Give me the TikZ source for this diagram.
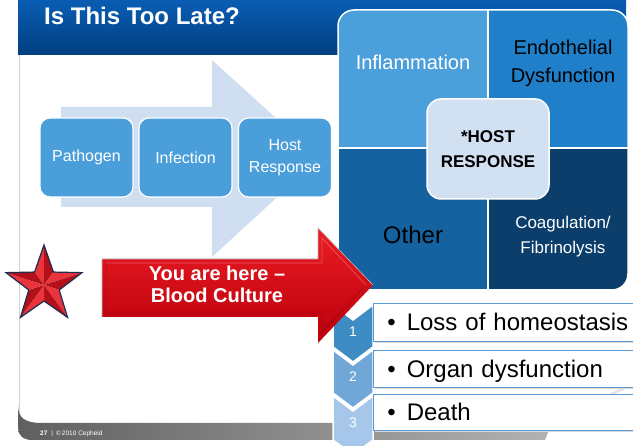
\documentclass[tikz,border=0pt]{standalone}
\usepackage{fontspec}
\setmainfont{Liberation Sans}
\usetikzlibrary{calc}

\definecolor{hdrtop}{HTML}{0A5DB3}
\definecolor{hdrbot}{HTML}{003F80}
\definecolor{flowarrow}{HTML}{CFDFF1}
\definecolor{procblue}{HTML}{4A9FDA}
\definecolor{quadtl}{HTML}{4BA0DC}
\definecolor{quadtr}{HTML}{1F7FC8}
\definecolor{quadbl}{HTML}{1462A0}
\definecolor{quadbr}{HTML}{0C3E6C}
\definecolor{hostfill}{HTML}{D2E1F2}
\definecolor{chevone}{HTML}{3D8CC4}
\definecolor{chevtwo}{HTML}{70A7D7}
\definecolor{chevthree}{HTML}{A6C7E9}
\definecolor{listedge}{HTML}{5B9BD5}
\definecolor{redtop}{HTML}{EC1C24}
\definecolor{redbot}{HTML}{B8000C}
\definecolor{starlight}{HTML}{E8343A}
\definecolor{stardark}{HTML}{B2101A}
\definecolor{starline}{HTML}{1E2D52}

\tikzset{
  procbox/.style={rounded corners=10pt, fill=procblue, draw=white, line width=1.2pt,
    minimum width=93pt, minimum height=79pt, text=white, align=center,
    font=\fontsize{16}{22}\selectfont},
  hostbox/.style={rounded corners=14pt, fill=hostfill, draw=white, line width=1.5pt,
    minimum width=122pt, minimum height=100pt, align=center,
    font=\bfseries\fontsize{17}{25}\selectfont},
  quadlabel/.style={align=center, inner sep=0pt},
  listbox/.style={anchor=north west, fill=white, draw=listedge, line width=0.8pt,
    minimum width=270pt, minimum height=38pt, text width=250pt, align=left,
    inner xsep=14pt, text height=17pt, text depth=0pt,
    font=\fontsize{24}{27}\selectfont},
  chevron/.style={draw=white, line width=1.5pt},
  chevnum/.style={text=white, font=\fontsize{14}{16}\selectfont, inner sep=0pt},
}

\begin{document}
\begin{tikzpicture}[x=1pt, y=-1pt]
\useasboundingbox (0,0) rectangle (633,446);
\clip (0,0) rectangle (633,446);

% slide frame
\draw[gray!35, line width=1pt] (19,55) -- (19,425);

% footer bar and swoosh
\shade[left color=gray!75!black, right color=gray!60]
  (18,405) .. controls (18,418) and (25,423) .. (42,423) -- (552,423)
  -- (545,440) -- (32,440) .. controls (23,440) and (18,435) .. (18,428) -- cycle;
\draw[gray!25, line width=2pt] (545,430) .. controls (580,410) and (610,392) .. (640,383);
\node[anchor=base west, text=white, font=\fontsize{6.5}{8}\selectfont, inner sep=0pt]
  (footer) at (40,436) {\textbf{27}\hspace{4pt}|\hspace{3pt}\copyright\,2010 Cepheid};

% title bar
\shade[top color=hdrtop, bottom color=hdrbot] (18,0) rectangle (626,55);
\node[anchor=base west, text=white, inner sep=0pt,
  font=\bfseries\fontsize{24}{28}\selectfont] (title) at (44,25) {Is This Too Late?};

% process arrow with its three steps
\fill[flowarrow] (61,107) -- (212,107) -- (212,60) -- (320,158) -- (212,257)
  -- (212,207) -- (61,207) -- cycle;
\node[procbox] (pathogen) at (86.5,157.5) {Pathogen};
\node[procbox] (infection) at (185.5,157.5) {Infection};
\node[procbox] (hostresp) at (285,157.5) {Host\\Response};

% host response quadrants
\begin{scope}
  \clip[rounded corners=16pt] (338,10) rectangle (628,290);
  \fill[quadtl] (338,10) rectangle (488,148);
  \fill[quadtr] (488,10) rectangle (628,148);
  \fill[quadbl] (338,148) rectangle (488,290);
  \fill[quadbr] (488,148) rectangle (628,290);
\end{scope}
\draw[white, line width=1.5pt] (488,10) -- (488,290) (338,148) -- (628,148);
\draw[white, line width=1.5pt, rounded corners=16pt] (338,10) rectangle (628,290);

\node[quadlabel, text=white, font=\fontsize{20}{26}\selectfont] (inflam) at (413,62) {Inflammation};
\node[quadlabel, text=black, font=\fontsize{20}{28}\selectfont] (endo) at (563,63) {Endothelial\\Dysfunction};
\node[quadlabel, text=black, font=\fontsize{24}{28}\selectfont] (other) at (413,235) {Other};
\node[quadlabel, text=white, font=\fontsize{17}{25}\selectfont] (coag) at (563,237) {Coagulation/\\Fibrinolysis};
\node[hostbox] (core) at (488,149) {*HOST\\RESPONSE};

% outcome list
\filldraw[chevron, fill=chevthree] (333,396) -- (353,411) -- (373,396) -- (373,440) -- (353,455) -- (333,440) -- cycle;
\filldraw[chevron, fill=chevtwo] (333,350) -- (353,365) -- (373,350) -- (373,393) -- (353,408) -- (333,393) -- cycle;
\filldraw[chevron, fill=chevone] (333,305) -- (353,320) -- (373,305) -- (373,347) -- (353,362) -- (333,347) -- cycle;
\node[chevnum] (n1) at (353,332) {1};
\node[chevnum] (n2) at (353,377) {2};
\node[chevnum] (n3) at (353,423) {3};

\fill[gray!30] (375,305) rectangle (640,343);
\fill[gray!30] (375,352) rectangle (640,389);
\fill[gray!30] (375,396) rectangle (640,432);
\node[listbox] (out1) at (373,303) {\textbullet\hspace{11pt}Loss of homeostasis};
\node[listbox, minimum height=37pt] (out2) at (373,350) {\textbullet\hspace{11pt}Organ dysfunction};
\node[listbox, minimum height=36pt] (out3) at (373,394) {\textbullet\hspace{11pt}Death};

% "you are here" arrow
\shade[top color=redtop, bottom color=redbot]
  (102,259) -- (318,259) -- (318,228) -- (373,285) -- (318,343) -- (318,317) -- (102,317) -- cycle;
\draw[gray!55, line width=0.6pt] (102,317) -- (102,259) -- (318,259) -- (318,228) -- (373,285);
\draw[white, opacity=0.25, line width=0.8pt] (106,263) -- (322,263) -- (322,238) -- (366,285);
\draw[black, opacity=0.15, line width=0.8pt] (366,285) -- (322,332) -- (322,313) -- (106,313) -- (106,263);
\node[text=white, align=center, font=\bfseries\fontsize{20}{22}\selectfont] (here) at (217,284)
  {You are here --\\Blood Culture};

% star marker
\coordinate (starc) at (44,285);
\foreach \k in {0,...,4} {
  \pgfmathsetmacro\ang{-90+72*\k}
  \fill[starlight] (starc) -- ($(starc)+(\ang:40)$) -- ($(starc)+(\ang-36:16)$) -- cycle;
  \fill[stardark] (starc) -- ($(starc)+(\ang:40)$) -- ($(starc)+(\ang+36:16)$) -- cycle;
}
\draw[starline, line width=1.2pt, line join=miter]
  ($(starc)+(-90:40)$) -- ($(starc)+(-54:16)$) -- ($(starc)+(-18:40)$) -- ($(starc)+(18:16)$)
  -- ($(starc)+(54:40)$) -- ($(starc)+(90:16)$) -- ($(starc)+(126:40)$) -- ($(starc)+(162:16)$)
  -- ($(starc)+(198:40)$) -- ($(starc)+(234:16)$) -- cycle;
\end{tikzpicture}
\end{document}
